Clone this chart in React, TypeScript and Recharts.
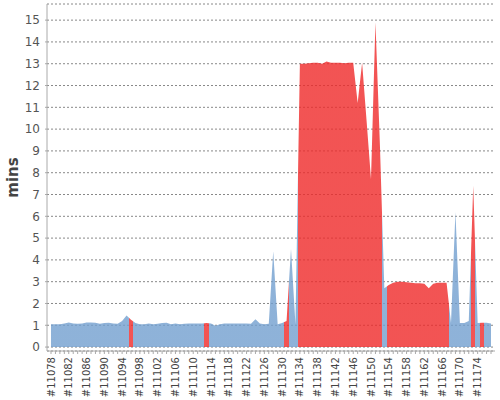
import React from 'react';
import { AreaChart, Area, XAxis, YAxis, CartesianGrid } from 'recharts';

// build time trend, one value per build (minutes)
const firstBuild = 11078;

const durations = [
  1.05, 1.05, 1.05, 1.08, 1.13, 1.08, 1.07, 1.08, 1.13, 1.13,
  1.12, 1.07, 1.1, 1.12, 1.08, 1.07, 1.2, 1.45, 1.25, 1.1,
  1.05, 1.05, 1.08, 1.05, 1.07, 1.1, 1.12, 1.05, 1.08, 1.05,
  1.07, 1.08, 1.08, 1.08, 1.08, 1.1, 1.08, 0.98, 1.05, 1.08,
  1.08, 1.08, 1.08, 1.08, 1.08, 1.07, 1.28, 1.08, 1.05, 1.07,
  4.4, 1.05, 1.1, 1.2, 4.5, 1.05, 13.0, 13.0, 13.02, 13.05,
  13.05, 13.0, 13.1, 13.05, 13.05, 13.05, 13.02, 13.05, 13.05, 11.2,
  13.05, 10.4, 7.7, 14.9, 9.3, 2.7, 2.85, 2.95, 3.0, 3.0,
  2.97, 2.95, 2.93, 2.93, 2.9, 2.7, 2.9, 2.95, 2.95, 2.95,
  1.1, 6.2, 1.1, 1.1, 1.2, 7.4, 1.1, 1.12, 1.12, 1.08,
];

const failedBuilds = [
  11096, 11113, 11131,
  11134, 11135, 11136, 11137, 11138, 11139, 11140, 11141, 11142, 11143,
  11144, 11145, 11146, 11147, 11148, 11149, 11150, 11151, 11152,
  11154, 11155, 11156, 11157, 11158, 11159, 11160, 11161, 11162, 11163,
  11164, 11165, 11166, 11167,
  11173, 11175,
];

const yTicks = [0, 1, 2, 3, 4, 5, 6, 7, 8, 9, 10, 11, 12, 13, 14, 15];

const BLUE = '#729fcf';
const RED = '#ef2929';

const data = durations.map((mins, i) => ({ build: '#' + (firstBuild + i), mins }));
const colors = data.map((d, i) => (failedBuilds.includes(firstBuild + i) ? RED : BLUE));

// each build gets its own colour, switching half way between two builds
const stops: { offset: number; color: string }[] = [{ offset: 0, color: colors[0] }];
for (let i = 1; i < colors.length; i++) {
  if (colors[i] !== colors[i - 1]) {
    const off = (i - 0.5) / (colors.length - 1);
    stops.push({ offset: off, color: colors[i - 1] });
    stops.push({ offset: off, color: colors[i] });
  }
}
stops.push({ offset: 1, color: colors[colors.length - 1] });

const BuildTick = (props: any) => {
  const { x, y, payload } = props;
  const index = props.index ?? payload.index;
  if (index % 4 !== 0) return <g />;
  return (
    <text
      x={x}
      y={y}
      transform={`rotate(-90, ${x}, ${y})`}
      textAnchor="end"
      dominantBaseline="central"
      fontSize={10}
      fill="#444"
    >
      {payload.value}
    </text>
  );
};

const MinsLabel = (props: any) => {
  const vb = props.viewBox;
  const cy = vb ? vb.y + vb.height / 2 : 177;
  return (
    <text
      x={13}
      y={cy}
      transform={`rotate(-90, 13, ${cy})`}
      textAnchor="middle"
      dominantBaseline="central"
      fontSize={15}
      fontWeight="bold"
      fill="#444"
    >
      mins
    </text>
  );
};

export default function App() {
  return (
    <div style={{ position: 'absolute', left: 0, top: 0, fontFamily: 'DejaVu Sans' }}>
      <AreaChart width={500} height={400} data={data} margin={{ top: 4, right: 5, bottom: 0, left: 0 }}>
        <defs>
          <linearGradient id="resultFill" x1="0" y1="0" x2="1" y2="0">
            {stops.map((s, i) => (
              <stop key={i} offset={s.offset} stopColor={s.color} />
            ))}
          </linearGradient>
        </defs>
        <CartesianGrid vertical={false} stroke="#888" strokeDasharray="2 2" />
        <XAxis
          dataKey="build"
          interval={0}
          height={49}
          tick={BuildTick}
          tickSize={3}
          tickMargin={3}
          padding={{ left: 4, right: 4 }}
          axisLine={{ stroke: '#aaa' }}
          tickLine={{ stroke: '#aaa' }}
        />
        <YAxis
          type="number"
          domain={[-0.18, 15.74]}
          ticks={yTicks}
          interval={0}
          width={47}
          tickSize={2}
          tickMargin={5}
          axisLine={{ stroke: '#aaa' }}
          tickLine={{ stroke: '#aaa' }}
          tick={{ fontSize: 12, fill: '#555', fontFamily: 'DejaVu Sans' }}
          label={MinsLabel}
        />
        <Area
          type="linear"
          dataKey="mins"
          stroke="none"
          fill="url(#resultFill)"
          fillOpacity={0.8}
          dot={false}
          activeDot={false}
          isAnimationActive={false}
        />
      </AreaChart>
    </div>
  );
}
